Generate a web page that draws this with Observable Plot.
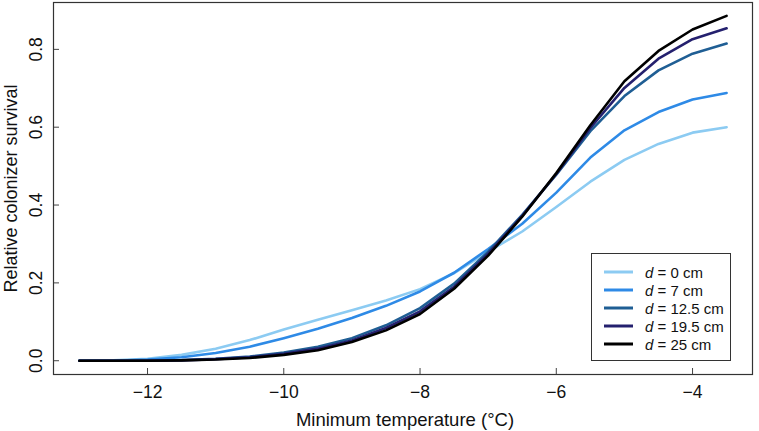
<!DOCTYPE html>
<html>
<head>
<meta charset="utf-8">
<script src="https://cdn.jsdelivr.net/npm/d3@7"></script>
<script src="https://cdn.jsdelivr.net/npm/@observablehq/plot@0.6"></script>
<style>
  html, body { margin: 0; padding: 0; background: #fff; }
  #wrap { position: relative; width: 759px; height: 431px; font-family: "Liberation Sans", Arial, Helvetica, sans-serif; }
  #legend { position: absolute; left: 591px; top: 253px; width: 140px; height: 108px; border: 1px solid #333; background: #fff; box-sizing: border-box; }
  .row { position: absolute; left: 0; height: 18px; display: flex; align-items: center; font-size: 15px; color: #111; }
  .row svg { margin-left: 12px; margin-right: 12px; }
</style>
</head>
<body>
<div id="wrap"></div>
<script>
// ---- data ----
const temps = [-13, -12.5, -12, -11.5, -11, -10.5, -10, -9.5, -9, -8.5, -8, -7.5, -7, -6.5, -6, -5.5, -5, -4.5, -4, -3.5];
const seriesNames = ["d = 0 cm", "d = 7 cm", "d = 12.5 cm", "d = 19.5 cm", "d = 25 cm"];
const d0   = [0.000, 0.001, 0.005, 0.015, 0.031, 0.053, 0.080, 0.105, 0.130, 0.155, 0.184, 0.225, 0.280, 0.332, 0.395, 0.460, 0.516, 0.557, 0.586, 0.600];
const d7   = [0.000, 0.000, 0.003, 0.009, 0.020, 0.036, 0.058, 0.082, 0.110, 0.141, 0.178, 0.226, 0.287, 0.352, 0.432, 0.522, 0.592, 0.639, 0.671, 0.688];
const d125 = [0.000, 0.000, 0.001, 0.002, 0.005, 0.011, 0.021, 0.036, 0.058, 0.091, 0.135, 0.198, 0.280, 0.375, 0.478, 0.590, 0.680, 0.746, 0.789, 0.815];
const d195 = [0.000, 0.000, 0.000, 0.001, 0.004, 0.009, 0.018, 0.031, 0.052, 0.084, 0.127, 0.190, 0.275, 0.372, 0.480, 0.598, 0.701, 0.776, 0.826, 0.854];
const d25  = [0.000, 0.000, 0.000, 0.001, 0.003, 0.007, 0.015, 0.027, 0.048, 0.078, 0.120, 0.185, 0.270, 0.370, 0.482, 0.605, 0.718, 0.796, 0.851, 0.886];
const seriesValues = [d0, d7, d125, d195, d25];
const colors = ["#8ccbf2", "#2e8ae6", "#1f5e94", "#24206e", "#000000"];
const xTicks = [-12, -10, -8, -6, -4];
const yTicks = [0, 0.2, 0.4, 0.6, 0.8];
const xTitle = "Minimum temperature (°C)";
const yTitle = "Relative colonizer survival";

// ---- build table ----
const rows = [];
seriesNames.forEach((name, i) => {
  temps.forEach((t, j) => rows.push({series: name, x: t, y: seriesValues[i][j]}));
});

const font = "'Liberation Sans', Arial, Helvetica, sans-serif";
const chart = Plot.plot({
  width: 759,
  height: 431,
  marginLeft: 53,
  marginRight: 7,
  marginTop: 2,
  marginBottom: 57,
  style: {fontFamily: font, background: "#fff", overflow: "visible"},
  x: {domain: [-13.38, -3.12]},
  y: {domain: [-0.0354, 0.9204]},
  color: {domain: seriesNames, range: colors},
  marks: [
    Plot.axisX(xTicks, {tickSize: -6, tickFormat: () => "", label: null, stroke: "#444"}),
    Plot.axisY(yTicks, {tickSize: -6, tickFormat: () => "", label: null, stroke: "#444"}),
    Plot.text(xTicks, {x: d => d, text: d => (d < 0 ? "\u2212" : "") + Math.abs(d), frameAnchor: "bottom", dy: 18, textAnchor: "middle", lineAnchor: "middle", fontSize: 17.5, fill: "#111"}),
    Plot.text(yTicks, {y: d => d, text: d => d3.format(".1f")(d), frameAnchor: "left", dx: -17, rotate: -90, textAnchor: "middle", lineAnchor: "middle", fontSize: 17.5, fill: "#111"}),
    Plot.text([xTitle], {frameAnchor: "bottom", dy: 46, dx: 2, textAnchor: "middle", lineAnchor: "middle", fontSize: 18.5, fill: "#111"}),
    Plot.text([yTitle], {frameAnchor: "left", dx: -42, rotate: -90, textAnchor: "middle", lineAnchor: "middle", fontSize: 18, fill: "#111"}),
    Plot.line(rows, {x: "x", y: "y", z: "series", stroke: "series", strokeWidth: 2.6, curve: "linear"}),
    Plot.frame({stroke: "#333", strokeWidth: 1.2})
  ]
});
const wrap = document.getElementById("wrap");
wrap.appendChild(chart);

// ---- legend ----
const legend = document.createElement("div");
legend.id = "legend";
seriesNames.forEach((name, i) => {
  const row = document.createElement("div");
  row.className = "row";
  row.style.top = (9 + i * 18) + "px";
  const parts = name.split(" = ");
  row.innerHTML = `<svg width="29" height="6"><line x1="0" x2="29" y1="3" y2="3" stroke="${colors[i]}" stroke-width="3"/></svg><span><i>${parts[0]}</i> = ${parts[1]}</span>`;
  legend.appendChild(row);
});
wrap.appendChild(legend);
</script>
</body>
</html>
